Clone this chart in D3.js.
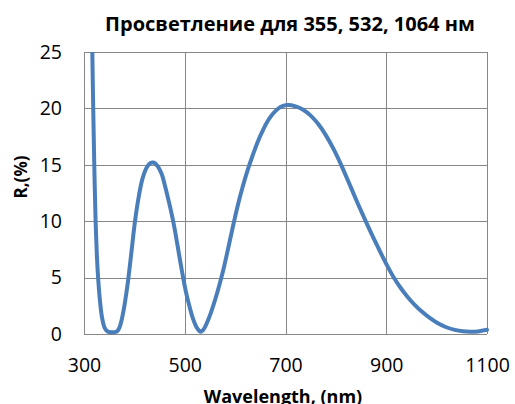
<!DOCTYPE html>
<html><head><meta charset="utf-8">
<script src="https://cdn.jsdelivr.net/npm/d3@7"></script>
<style>
body{margin:0;background:#fff;}
svg{display:block;}
text{font-family:"Open Sans","Noto Sans",sans-serif;fill:#000;}
</style></head>
<body>
<svg id="c" width="515" height="404"></svg>
<script>
const title = "Просветление для 355, 532, 1064 нм";
const xTitle = "Wavelength, (nm)";
const yTitle = "R,(%)";
const xTicks = [300, 500, 700, 900, 1100];
const yTicks = [0, 5, 10, 15, 20, 25];
const wavelength = [313,316.5,318.3,320.4,323,325.5,328,332,336,341,347,355,363,367,371,375,380,384,388,394.5,401,408,416,425,432,438,446,454,461,467,472,477,482,487,492,497,503,510,516,522,527,531.5,536,540,547,555,565,575,585,595,605,615,625,635,645,655,665,675,685,695,705,720,735,750,765,780,795,810,830,845,860,875,890,900,914,928,942,956,970,985,1000,1018,1036,1052,1066,1082,1100];
const reflectance = [35,25,20,15,10,7,5,2.8,1.4,0.55,0.22,0.15,0.18,0.3,0.65,1.3,2.45,3.6,4.9,7.4,9.9,12,13.75,14.8,15.15,15.2,14.9,14.2,13.1,12,11.05,10,8.8,7.5,6.2,4.95,3.6,2.35,1.4,0.72,0.36,0.2,0.33,0.6,1.3,2.3,3.75,5.4,7.35,9.4,11.35,13.05,14.55,15.85,17.05,18.05,18.9,19.52,19.97,20.22,20.3,20.18,19.88,19.36,18.61,17.63,16.43,15.04,12.98,11.42,9.92,8.48,7.1,6.22,5.07,4.12,3.31,2.61,2.01,1.47,1.02,0.62,0.37,0.24,0.2,0.23,0.37];

const svg = d3.select("#c");
const m = {l:84, t:52, r:28, b:70};
const W = 515 - m.l - m.r, H = 404 - m.t - m.b;
const x = d3.scaleLinear().domain([300,1100]).range([m.l, m.l+W]);
const y = d3.scaleLinear().domain([0,25]).range([m.t+H, m.t]);
const grid = "#878787";

// gridlines
svg.append("g").selectAll("line").data(yTicks).join("line")
  .attr("x1", x(300)).attr("x2", x(1100))
  .attr("y1", d=>Math.round(y(d))+0.5).attr("y2", d=>Math.round(y(d))+0.5)
  .attr("stroke", grid).attr("stroke-width",1);
svg.append("g").selectAll("line").data(xTicks).join("line")
  .attr("x1", d=>Math.round(x(d))+0.5).attr("x2", d=>Math.round(x(d))+0.5)
  .attr("y1", y(0)).attr("y2", y(25))
  .attr("stroke", grid).attr("stroke-width",1);

// axes labels via d3 axes
const yAxis = svg.append("g").attr("transform",`translate(${x(300)},0)`)
  .call(d3.axisLeft(y).tickValues(yTicks).tickFormat(d3.format("d")).tickSize(0).tickPadding(22));
const xAxis = svg.append("g").attr("transform",`translate(0,${y(0)})`)
  .call(d3.axisBottom(x).tickValues(xTicks).tickFormat(d3.format("d")).tickSize(0).tickPadding(24));
[yAxis, xAxis].forEach(a=>{
  a.select(".domain").remove();
  a.selectAll("text").attr("font-size",19.5).attr("font-family",'"Open Sans",sans-serif').attr("fill","#111");
});

// clip
svg.append("clipPath").attr("id","clip").append("rect")
  .attr("x", x(300)).attr("y", y(25)).attr("width", W+3).attr("height", H+3);

const pts = wavelength.map((w,i)=>[w, reflectance[i]]);
svg.append("path").datum(pts)
  .attr("clip-path","url(#clip)")
  .attr("fill","none").attr("stroke","#4a7ebb").attr("stroke-width",4)
  .attr("stroke-linejoin","round").attr("stroke-linecap","round")
  .attr("d", d3.line().x(d=>x(d[0])).y(d=>y(d[1])).curve(d3.curveCatmullRom.alpha(0.5)));

svg.append("text").attr("x", 290).attr("y", 31).attr("text-anchor","middle")
  .attr("font-size",20).attr("font-weight","bold").text(title);
svg.append("text").attr("x", 283).attr("y", 403).attr("text-anchor","middle")
  .attr("font-size",18).attr("font-weight","bold").text(xTitle);
svg.append("text").attr("transform","translate(27,177) rotate(-90)").attr("text-anchor","middle")
  .attr("font-size",17).attr("font-weight","bold").text(yTitle);
</script>
</body></html>
